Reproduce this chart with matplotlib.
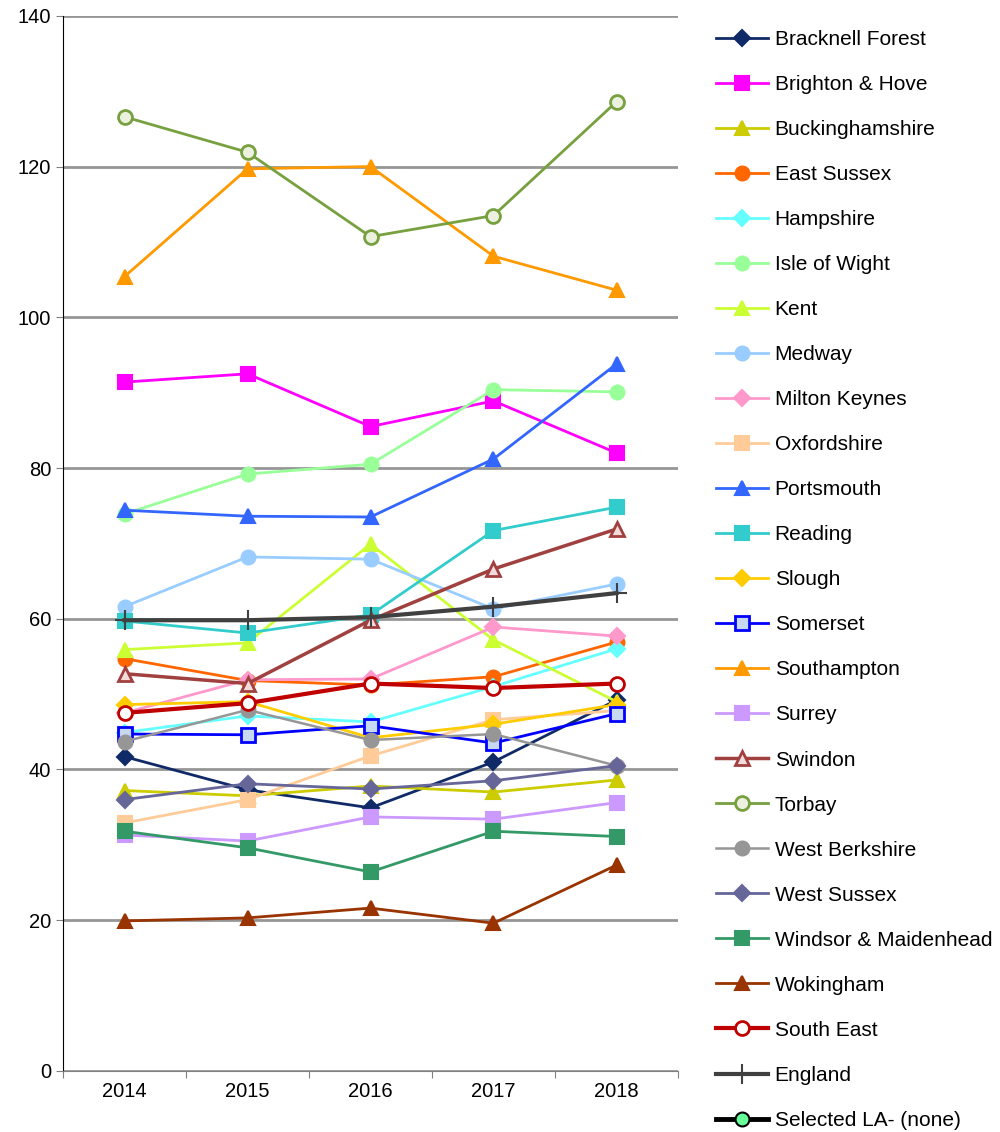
import numpy as np
import matplotlib.pyplot as plt

years = ["2014", "2015", "2016", "2017", "2018"]

bracknell = [41.7, 37.3, 34.9, 41.0, 49.2]
brighton = [91.4, 92.5, 85.5, 88.9, 82.0]
bucks = [37.2, 36.5, 37.8, 37.0, 38.6]
east_sussex = [54.7, 51.8, 51.2, 52.3, 56.9]
hampshire = [44.9, 47.1, 46.3, 51.0, 56.0]
isle_of_wight = [73.9, 79.2, 80.5, 90.4, 90.1]
kent = [55.9, 56.8, 69.9, 57.2, 49.0]
medway = [61.6, 68.2, 67.9, 61.3, 64.6]
milton_keynes = [47.5, 51.9, 52.0, 58.9, 57.7]
oxfordshire = [32.9, 36.0, 41.8, 46.6, 47.8]
portsmouth = [74.4, 73.6, 73.5, 81.2, 93.8]
reading = [59.7, 58.1, 60.5, 71.7, 74.8]
slough = [48.6, 49.0, 44.2, 46.0, 48.6]
somerset = [44.7, 44.6, 45.8, 43.5, 47.4]
southampton = [105.4, 119.7, 120.0, 108.1, 103.6]
surrey = [31.3, 30.5, 33.7, 33.4, 35.6]
swindon = [52.7, 51.4, 59.8, 66.6, 71.9]
torbay = [126.6, 121.9, 110.7, 113.5, 128.6]
west_berkshire = [43.7, 47.9, 43.9, 44.7, 40.5]
west_sussex = [36.0, 38.1, 37.4, 38.5, 40.5]
windsor = [31.8, 29.6, 26.4, 31.8, 31.1]
wokingham = [19.9, 20.3, 21.6, 19.6, 27.3]
south_east = [47.5, 48.8, 51.4, 50.8, 51.4]
england = [59.8, 59.8, 60.2, 61.6, 63.4]
selected = [np.nan] * 5

# (label, values, line colour, marker, marker face, marker edge, line width)
series = [
    ("Bracknell Forest", bracknell, "#0f2a66", "D", "#0f2a66", "#0f2a66", 2),
    ("Brighton & Hove", brighton, "#ff00ff", "s", "#ff00ff", "#ff00ff", 2),
    ("Buckinghamshire", bucks, "#cccc00", "^", "#cccc00", "#cccc00", 2),
    ("East Sussex", east_sussex, "#ff6600", "o", "#ff6600", "#ff6600", 2),
    ("Hampshire", hampshire, "#66ffff", "D", "#66ffff", "#66ffff", 2),
    ("Isle of Wight", isle_of_wight, "#99ff99", "o", "#99ff99", "#99ff99", 2),
    ("Kent", kent, "#ccff33", "^", "#ccff33", "#ccff33", 2),
    ("Medway", medway, "#99ccff", "o", "#99ccff", "#99ccff", 2),
    ("Milton Keynes", milton_keynes, "#ff99cc", "D", "#ff99cc", "#ff99cc", 2),
    ("Oxfordshire", oxfordshire, "#ffcc99", "s", "#ffcc99", "#ffcc99", 2),
    ("Portsmouth", portsmouth, "#3366ff", "^", "#3366ff", "#3366ff", 2),
    ("Reading", reading, "#33cccc", "s", "#33cccc", "#33cccc", 2),
    ("Slough", slough, "#ffcc00", "D", "#ffcc00", "#ffcc00", 2),
    ("Somerset", somerset, "#0000ff", "s", "#c6d9f1", "#0000ff", 2),
    ("Southampton", southampton, "#ff9900", "^", "#ff9900", "#ff9900", 2),
    ("Surrey", surrey, "#cc99ff", "s", "#cc99ff", "#cc99ff", 2),
    ("Swindon", swindon, "#a0403f", "^", "#f2dcdb", "#a0403f", 2.5),
    ("Torbay", torbay, "#77a03f", "o", "#ebf1de", "#77a03f", 2),
    ("West Berkshire", west_berkshire, "#969696", "o", "#969696", "#969696", 1.8),
    ("West Sussex", west_sussex, "#666699", "D", "#666699", "#666699", 2),
    ("Windsor & Maidenhead", windsor, "#339966", "s", "#339966", "#339966", 2),
    ("Wokingham", wokingham, "#993300", "^", "#993300", "#993300", 2),
    ("South East", south_east, "#c00000", "o", "white", "#c00000", 3),
    ("England", england, "#404040", "+", "#404040", "#404040", 3),
    ("Selected LA- (none)", selected, "black", "o", "#66ff99", "black", 3.5),
]

plt.rcParams['font.family'] = ['Liberation Sans', 'DejaVu Sans']

fig = plt.figure(figsize=(10, 11.32), dpi=100)
ax = fig.add_axes([0.063, 0.054, 0.615, 0.932])

x = np.arange(len(years))
for label, vals, color, marker, face, edge, lw in series:
    ms = 10
    if marker == "D":
        ms = 8
    if marker == "+":
        ms = 15
    mew = 2 if face in ("white", "#c6d9f1", "#f2dcdb", "#ebf1de") else 1.5
    ax.plot(x, vals, color=color, lw=lw, marker=marker, ms=ms,
            mfc=face, mec=edge, mew=mew, label=label)

ax.set_xlim(-0.5, len(years) - 0.5)
ax.set_ylim(0, 140)
ax.set_yticks(range(0, 141, 20))
ax.yaxis.grid(True, color="#969696", lw=2)
ax.set_axisbelow(True)

ax.set_xticks(np.arange(-0.5, len(years), 1))
ax.set_xticklabels([])
ax.set_xticks(x, minor=True)
ax.set_xticklabels(years, minor=True)
ax.tick_params(axis="x", which="minor", length=0, pad=8, labelsize=14.5)
ax.tick_params(axis="x", which="major", length=5, color="#808080")
ax.tick_params(axis="y", length=5, labelsize=14.5, color="#808080")

for side in ("top", "right"):
    ax.spines[side].set_visible(False)
ax.spines["left"].set_color("black")
ax.spines["bottom"].set_color("#808080")

fig.legend(loc="upper left", bbox_to_anchor=(0.708, 0.981), frameon=False,
           fontsize=15, handlelength=2.5, handletextpad=0.3,
           labelspacing=1.25, borderaxespad=0)

fig.savefig("out.png", dpi=100)
